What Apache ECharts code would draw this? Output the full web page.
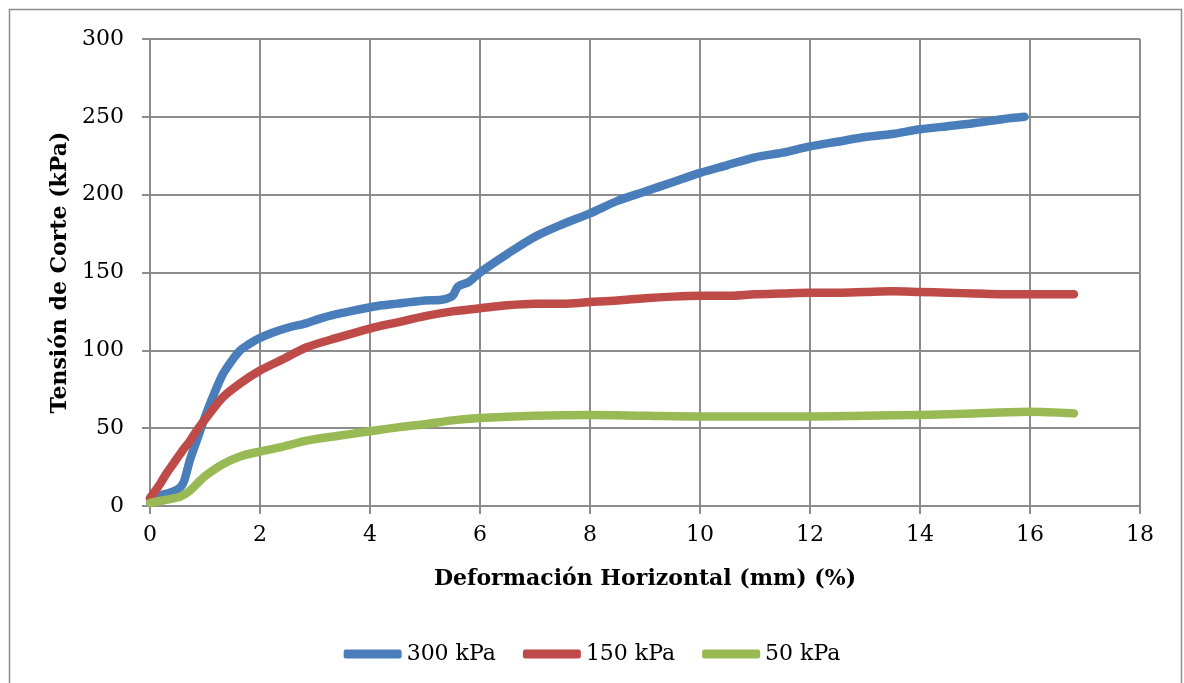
<!DOCTYPE html>
<html>
<head>
<meta charset="utf-8">
<script src="https://cdn.jsdelivr.net/npm/echarts@6/dist/echarts.min.js"></script>
<style>html,body{margin:0;padding:0;background:#fff}#c{width:1184px;height:683px}</style>
</head>
<body>
<div id="c"></div>
<script>
const seriesNames = ['300 kPa', '150 kPa', '50 kPa'];
const s300 = [[0,5],[0.2,7],[0.4,9],[0.55,12],[0.62,16],[0.73,30],[0.85,42],[1.03,60],[1.2,75],[1.33,85],[1.5,94],[1.64,100],[1.8,104],[1.94,107],[2.2,111],[2.55,115],[2.8,117],[3.15,121],[3.5,124],[4.05,128],[4.5,130],[5.0,132],[5.3,132.5],[5.5,135],[5.6,141],[5.8,144],[6.0,150],[6.5,162],[7.0,173],[7.5,181],[8.0,188],[8.5,196],[9.0,202],[9.5,208],[10,214],[10.5,219],[11,224],[11.5,227],[12,231],[12.5,234],[13,237],[13.5,239],[14,242],[14.5,244],[15,246],[15.5,248.5],[15.9,250]];
const s150 = [[0,5],[0.1,10],[0.18,14],[0.3,21],[0.42,27],[0.58,35],[0.73,42],[0.88,50],[1.03,57],[1.33,70],[1.65,79],[2.0,87],[2.4,94],[2.85,102],[3.4,108],[4.0,114],[4.5,118],[5.0,122],[5.5,125],[6.0,127],[6.5,129],[7.0,130],[7.5,130],[8.0,131],[8.5,132],[9.0,133.5],[9.5,134.5],[10,135],[10.5,135],[11,136],[11.5,136.5],[12,137],[12.5,137],[13,137.5],[13.5,138],[14,137.5],[14.5,137],[15,136.5],[15.5,136],[16,136],[16.8,136]];
const s50 = [[0,2],[0.3,4],[0.55,6],[0.73,10],[0.9,16],[1.03,20],[1.33,27],[1.65,32],[2.0,35],[2.4,38],[2.85,42],[3.4,45],[4.0,48],[4.5,50.5],[5.0,52.5],[5.5,55],[6.0,56.5],[7.0,58],[8.0,58.5],[9.0,58],[10,57.5],[11,57.5],[12,57.5],[13,58],[14,58.5],[15,59.5],[16,60.5],[16.8,59.5]];
const colors = ['#4a7ebb', '#be4b48', '#98b954'];
const FONT = '"DejaVu Serif", serif';
const grid = '#8c8c8c';

const chart = echarts.init(document.getElementById('c'), null, {renderer: 'canvas'});
const mk = (name, data, color) => ({
  name, type: 'line', data, showSymbol: false, symbol: 'none', smooth: 0.3,
  lineStyle: {color, width: 8.5, cap: 'round', join: 'round'}, itemStyle: {color},
  animation: false
});
chart.setOption({
  animation: false,
  graphic: [{type: 'rect', shape: {x: 9.5, y: 9.5, width: 1172, height: 700}, style: {fill: 'none', stroke: '#8c8c8c', lineWidth: 1.5}, z: -1}],
  grid: {left: 150, right: 44, top: 39, bottom: 177},
  legend: {
    data: seriesNames, bottom: 13, left: 'center', itemWidth: 58, itemHeight: 9, itemGap: 27,
    icon: 'roundRect',
    textStyle: {fontFamily: FONT, fontSize: 22, color: '#000'}
  },
  xAxis: {
    type: 'value', min: 0, max: 18, interval: 2,
    name: 'Deformación Horizontal (mm) (%)', nameLocation: 'middle', nameGap: 62,
    nameTextStyle: {fontFamily: FONT, fontSize: 22, fontWeight: 'bold', color: '#000'},
    axisLine: {show: true, lineStyle: {color: grid, width: 2}},
    axisTick: {show: true, length: 8, lineStyle: {color: grid, width: 2}},
    axisLabel: {fontFamily: FONT, fontSize: 22, color: '#000', margin: 18},
    splitLine: {show: true, lineStyle: {color: grid, width: 2}}
  },
  yAxis: {
    type: 'value', min: 0, max: 300, interval: 50,
    name: 'Tensión de Corte (kPa)', nameLocation: 'middle', nameGap: 77,
    nameTextStyle: {fontFamily: FONT, fontSize: 22, fontWeight: 'bold', color: '#000'},
    axisLine: {show: true, lineStyle: {color: grid, width: 2}},
    axisTick: {show: true, length: 8, lineStyle: {color: grid, width: 2}},
    axisLabel: {fontFamily: FONT, fontSize: 22, color: '#000', margin: 26},
    splitLine: {show: true, lineStyle: {color: grid, width: 2}}
  },
  series: [mk(seriesNames[0], s300, colors[0]), mk(seriesNames[1], s150, colors[1]), mk(seriesNames[2], s50, colors[2])]
});
</script>
</body>
</html>
